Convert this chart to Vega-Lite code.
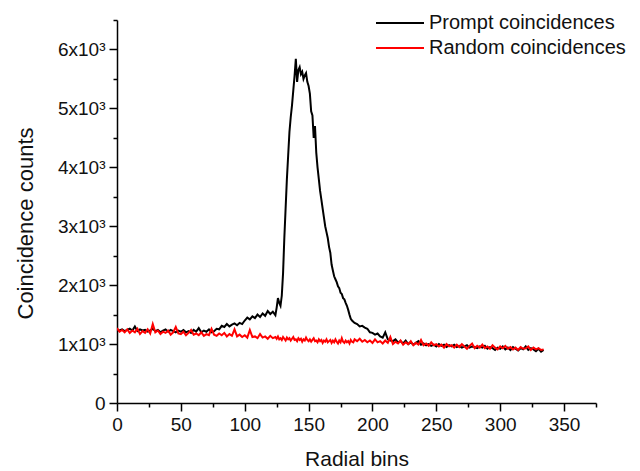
{
  "$schema": "https://vega.github.io/schema/vega-lite/v6.json",
  "width": 479,
  "height": 383,
  "autosize": {"type": "none"},
  "padding": {"left": 117, "top": 20, "right": 44, "bottom": 68},
  "background": "white",
  "config": {
    "view": {"stroke": null},
    "font": "Liberation Sans",
    "axis": {"grid": false, "domainColor": "#000", "domainWidth": 1.5, "tickColor": "#000", "tickWidth": 1.5, "labelColor": "#111", "titleColor": "#111", "labelFont": "Liberation Sans", "titleFont": "Liberation Sans", "labelFontSize": 19, "titleFontWeight": "normal", "labelFlush": false, "labelOverlap": false}
  },
  "data": {"values": [
    {"x":0,"p":1240,"r":1270},{"x":2,"p":1230,"r":1210},{"x":4,"p":1250,"r":1240},{"x":6,"p":1220,"r":1200},{"x":8,"p":1240,"r":1250},
    {"x":10,"p":1260,"r":1190},{"x":12,"p":1230,"r":1230},{"x":14,"p":1300,"r":1200},{"x":16,"p":1220,"r":1260},{"x":18,"p":1250,"r":1170},
    {"x":20,"p":1230,"r":1220},{"x":22,"p":1240,"r":1190},{"x":24,"p":1210,"r":1250},{"x":26,"p":1230,"r":1180},{"x":28,"p":1260,"r":1340},
    {"x":30,"p":1220,"r":1200},{"x":32,"p":1240,"r":1230},{"x":34,"p":1200,"r":1170},{"x":36,"p":1230,"r":1210},{"x":38,"p":1250,"r":1190},
    {"x":40,"p":1210,"r":1230},{"x":42,"p":1240,"r":1160},{"x":44,"p":1220,"r":1200},{"x":46,"p":1200,"r":1290},{"x":48,"p":1230,"r":1180},
    {"x":50,"p":1210,"r":1170},{"x":52,"p":1240,"r":1210},{"x":54,"p":1200,"r":1150},{"x":56,"p":1220,"r":1190},{"x":58,"p":1190,"r":1240},
    {"x":60,"p":1240,"r":1160},{"x":62,"p":1210,"r":1180},{"x":64,"p":1270,"r":1150},{"x":66,"p":1200,"r":1200},{"x":68,"p":1230,"r":1140},
    {"x":70,"p":1210,"r":1170},{"x":72,"p":1250,"r":1150},{"x":74,"p":1200,"r":1260},{"x":76,"p":1220,"r":1160},{"x":78,"p":1260,"r":1140},
    {"x":80,"p":1250,"r":1180},{"x":82,"p":1310,"r":1150},{"x":84,"p":1290,"r":1190},{"x":86,"p":1340,"r":1130},{"x":88,"p":1300,"r":1170},
    {"x":90,"p":1330,"r":1140},{"x":92,"p":1350,"r":1250},{"x":94,"p":1320,"r":1130},{"x":96,"p":1360,"r":1160},{"x":98,"p":1340,"r":1120},
    {"x":100,"p":1400,"r":1150},{"x":102,"p":1450,"r":1110},{"x":104,"p":1420,"r":1240},{"x":106,"p":1470,"r":1120},{"x":108,"p":1440,"r":1130},
    {"x":110,"p":1500,"r":1100},{"x":112,"p":1460,"r":1170},{"x":114,"p":1520,"r":1110},{"x":116,"p":1480,"r":1130},{"x":118,"p":1560,"r":1090},
    {"x":120,"p":1510,"r":1140},{"x":122,"p":1550,"r":1100},{"x":124,"p":1490,"r":1120},
    {"x":125,"p":1620,"r":1090},{"x":126,"p":1780,"r":1130},{"x":127,"p":1700,"r":1080},{"x":128,"p":1650,"r":1100},{"x":129,"p":1820,"r":1070},
    {"x":130,"p":2200,"r":1120},{"x":131,"p":2800,"r":1090},{"x":132,"p":3300,"r":1060},{"x":133,"p":3800,"r":1110},{"x":134,"p":4200,"r":1080},
    {"x":135,"p":4600,"r":1100},{"x":136,"p":4850,"r":1060},{"x":137,"p":5050,"r":1090},{"x":138,"p":5300,"r":1120},{"x":139,"p":5550,"r":1070},
    {"x":140,"p":5840,"r":1080},{"x":141,"p":5450,"r":1050},{"x":142,"p":5650,"r":1100},{"x":143,"p":5700,"r":1070},{"x":144,"p":5580,"r":1090},
    {"x":145,"p":5620,"r":1040},{"x":146,"p":5500,"r":1080},{"x":147,"p":5560,"r":1060},{"x":148,"p":5600,"r":1110},{"x":149,"p":5450,"r":1070},
    {"x":150,"p":5380,"r":1050},{"x":151,"p":5250,"r":1080},{"x":152,"p":4950,"r":1040},{"x":153,"p":4880,"r":1070},{"x":154,"p":4500,"r":1100},
    {"x":155,"p":4700,"r":1050},{"x":156,"p":4250,"r":1060},{"x":157,"p":4000,"r":1030},{"x":158,"p":3800,"r":1080},{"x":159,"p":3600,"r":1050},
    {"x":160,"p":3450,"r":1070},{"x":161,"p":3300,"r":1020},{"x":162,"p":3150,"r":1060},{"x":163,"p":3000,"r":1040},{"x":164,"p":2900,"r":1080},
    {"x":165,"p":2800,"r":1030},{"x":166,"p":2650,"r":1050},{"x":167,"p":2550,"r":1070},{"x":168,"p":2350,"r":1020},{"x":169,"p":2250,"r":1060},
    {"x":170,"p":2150,"r":1030},{"x":171,"p":2100,"r":1080},{"x":172,"p":2050,"r":1040},{"x":173,"p":1980,"r":1010},{"x":174,"p":1950,"r":1060},
    {"x":175,"p":1870,"r":1030},{"x":176,"p":1850,"r":1100},{"x":177,"p":1780,"r":1040},{"x":178,"p":1760,"r":1020},{"x":179,"p":1700,"r":1060},
    {"x":180,"p":1650,"r":1030},{"x":181,"p":1580,"r":1050},{"x":182,"p":1500,"r":1010},{"x":183,"p":1430,"r":1070},{"x":184,"p":1400,"r":1040},
    {"x":185,"p":1380,"r":1030},
    {"x":186,"p":1360,"r":1080},{"x":188,"p":1340,"r":1050},{"x":190,"p":1300,"r":1090},{"x":192,"p":1310,"r":1040},{"x":194,"p":1280,"r":1070},
    {"x":196,"p":1260,"r":1030},{"x":198,"p":1200,"r":1060},{"x":200,"p":1190,"r":1020},{"x":202,"p":1160,"r":1080},{"x":204,"p":1180,"r":1030},
    {"x":206,"p":1130,"r":1050},{"x":208,"p":1110,"r":1010},{"x":210,"p":1200,"r":1060},{"x":212,"p":1080,"r":1020},{"x":214,"p":1060,"r":1120},
    {"x":216,"p":1050,"r":1000},{"x":218,"p":1080,"r":1040},{"x":220,"p":1030,"r":1010},{"x":222,"p":1050,"r":1060},{"x":224,"p":1010,"r":990},
    {"x":226,"p":1060,"r":1030},{"x":228,"p":1000,"r":1000},{"x":230,"p":1030,"r":1050},{"x":232,"p":990,"r":980},{"x":234,"p":1020,"r":1020},
    {"x":236,"p":1050,"r":990},{"x":238,"p":990,"r":1070},{"x":240,"p":1010,"r":980},{"x":242,"p":980,"r":1010},{"x":244,"p":1000,"r":970},
    {"x":246,"p":970,"r":1030},{"x":248,"p":990,"r":980},{"x":250,"p":960,"r":1000},{"x":252,"p":1000,"r":960},{"x":254,"p":970,"r":990},
    {"x":256,"p":990,"r":940},{"x":258,"p":950,"r":1000},{"x":260,"p":980,"r":960},{"x":262,"p":960,"r":980},{"x":264,"p":990,"r":940},
    {"x":266,"p":950,"r":990},{"x":268,"p":970,"r":950},{"x":270,"p":940,"r":1000},{"x":272,"p":960,"r":960},{"x":274,"p":980,"r":920},
    {"x":276,"p":940,"r":970},{"x":278,"p":960,"r":1010},{"x":280,"p":950,"r":930},{"x":282,"p":930,"r":970},{"x":284,"p":960,"r":940},
    {"x":286,"p":940,"r":990},{"x":288,"p":970,"r":930},{"x":290,"p":920,"r":960},{"x":292,"p":950,"r":920},{"x":294,"p":930,"r":980},
    {"x":296,"p":900,"r":940},{"x":298,"p":940,"r":910},{"x":300,"p":920,"r":960},{"x":302,"p":960,"r":930},{"x":304,"p":910,"r":970},
    {"x":306,"p":940,"r":920},{"x":308,"p":900,"r":950},{"x":310,"p":950,"r":910},{"x":312,"p":920,"r":940},{"x":314,"p":890,"r":900},
    {"x":316,"p":930,"r":950},{"x":318,"p":910,"r":920},{"x":320,"p":960,"r":930},{"x":322,"p":900,"r":960},{"x":324,"p":930,"r":900},
    {"x":326,"p":910,"r":940},{"x":328,"p":880,"r":910},{"x":330,"p":920,"r":930},{"x":332,"p":870,"r":900},{"x":334,"p":900,"r":910}
  ]},
  "transform": [{"fold": ["p", "r"], "as": ["series", "count"]}],
  "mark": {"type": "line", "strokeWidth": 2, "clip": true},
  "encoding": {
    "x": {"field": "x", "type": "quantitative",
      "scale": {"domain": [0, 375], "nice": false, "zero": false},
      "axis": {"title": "Radial bins", "titleFontSize": 21, "titlePadding": 14,
        "values": [0,25,50,75,100,125,150,175,200,225,250,275,300,325,350,375],
        "labelExpr": "datum.value % 50 == 0 ? datum.label : ''",
        "tickSize": {"condition": {"test": "datum.value % 50 == 0", "value": 8}, "value": 4},
        "labelPadding": 4}},
    "y": {"field": "count", "type": "quantitative",
      "scale": {"domain": [0, 6500], "nice": false},
      "axis": {"title": "Coincidence counts", "titleFontSize": 22, "titleX": -92, "titleY": 203, "titleAngle": -90, "titleBaseline": "middle", "titleAlign": "center",
        "values": [0,500,1000,1500,2000,2500,3000,3500,4000,4500,5000,5500,6000,6500],
        "labelExpr": "datum.value % 1000 == 0 ? (datum.value == 0 ? '0' : (datum.value/1000) + 'x10³') : ''",
        "tickSize": {"condition": {"test": "datum.value % 1000 == 0", "value": 8}, "value": 4},
        "labelPadding": 4}},
    "color": {"field": "series", "type": "nominal",
      "scale": {"domain": ["p", "r"], "range": ["#000000", "#ff0000"]},
      "legend": {"title": null, "orient": "none", "legendX": 270, "legendY": -10,
        "labelExpr": "datum.value == 'p' ? 'Prompt coincidences' : 'Random coincidences'",
        "symbolType": "M-2,0H2", "symbolSize": 576, "symbolStrokeWidth": 2,
        "labelFontSize": 20, "labelLimit": 0, "labelColor": "#111", "labelFont": "Liberation Sans", "labelOffset": 16, "rowPadding": 2, "padding": 0}}
  }
}
